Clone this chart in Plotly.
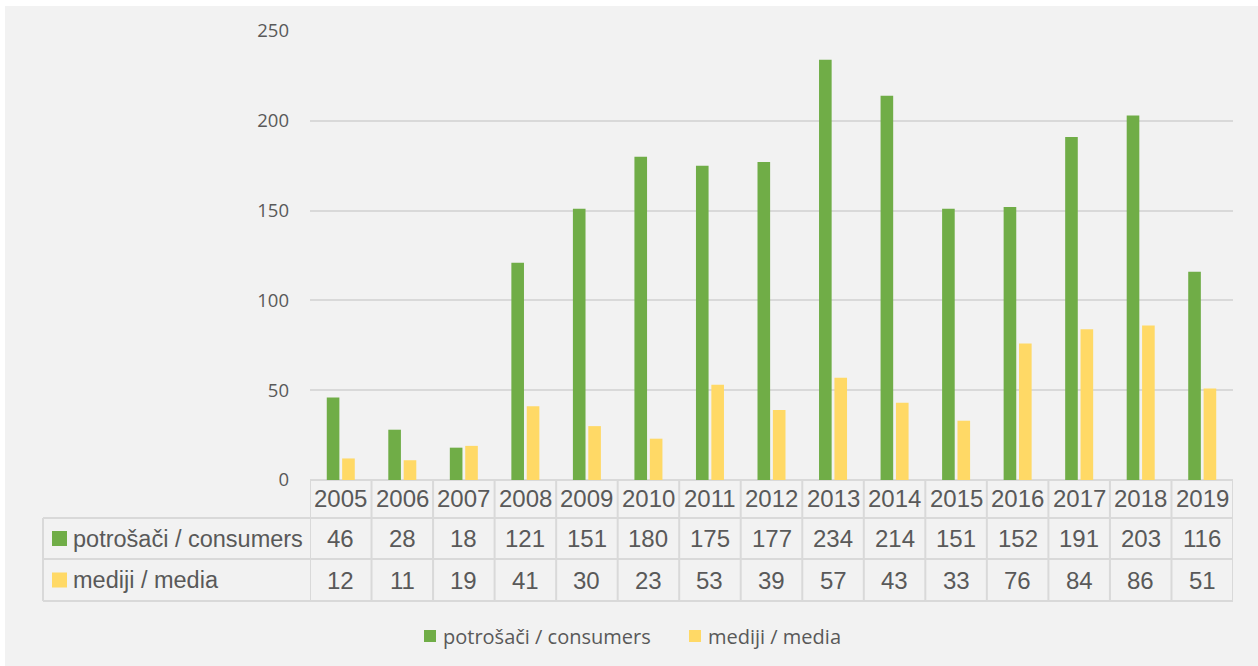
import plotly.graph_objects as go

years = ["2005", "2006", "2007", "2008", "2009", "2010", "2011", "2012",
         "2013", "2014", "2015", "2016", "2017", "2018", "2019"]
consumers = [46, 28, 18, 121, 151, 180, 175, 177, 234, 214, 151, 152, 191, 203, 116]
media = [12, 11, 19, 41, 30, 23, 53, 39, 57, 43, 33, 76, 84, 86, 51]
series_names = ["potrošači / consumers", "mediji / media"]
series_colors = ["#70AD47", "#FFD966"]

W, H = 1258, 666
PL, PR, PT, PB = 310, 1233, 31, 480  # plot area in pixels
PW, PH = PR - PL, PB - PT

def px(x):
    return (x - PL) / PW

def py(y):
    return (PB - y) / PH

TEXT = "#595959"
LINE = "#D9D9D9"
BG = "#F2F2F2"
TFONT = "Liberation Sans, Arial, sans-serif"
LFONT = "Open Sans, Calibri, sans-serif"
TSIZE = 24
LABSIZE = 23.5

fig = go.Figure()
for name, vals, col in zip(series_names, [consumers, media], series_colors):
    fig.add_trace(go.Bar(x=years, y=vals, name=name, marker=dict(color=col, line=dict(width=0)),
                         showlegend=False))

shapes = []
annotations = []

# background panel
shapes.append(dict(type="rect", xref="paper", yref="paper", x0=px(5), x1=px(W), y0=py(H), y1=py(6),
                   fillcolor=BG, line=dict(width=0), layer="below"))

# table rows (pixel y)
row_top, row1, row2, row_bot = 480, 518, 559, 601
n = len(years)
for yy in (row1, row2, row_bot):
    shapes.append(dict(type="line", xref="paper", yref="paper", x0=px(43), x1=1, y0=py(yy), y1=py(yy),
                       line=dict(color=LINE, width=2)))
for i in range(n + 1):
    shapes.append(dict(type="line", xref="x", yref="paper", x0=i - 0.5, x1=i - 0.5, y0=py(row_top), y1=py(row_bot),
                       line=dict(color=LINE, width=2)))
shapes.append(dict(type="line", xref="paper", yref="paper", x0=px(43), x1=px(43), y0=py(row1), y1=py(row_bot),
                   line=dict(color=LINE, width=2)))

# header labels
for i, yr in enumerate(years):
    annotations.append(dict(x=i, xref="x", y=py((row_top + row1) / 2), yref="paper", text=yr, showarrow=False,
                            font=dict(family=TFONT, size=TSIZE, color=TEXT), xanchor="center", yanchor="middle"))
# values + row labels
for r, (vals, name, col) in enumerate(zip([consumers, media], series_names, series_colors)):
    ytop, ybot = [(row1, row2), (row2, row_bot)][r]
    yc = (ytop + ybot) / 2
    for i, v in enumerate(vals):
        annotations.append(dict(x=i, xref="x", y=py(yc), yref="paper", text=str(v), showarrow=False,
                                font=dict(family=TFONT, size=TSIZE, color=TEXT), xanchor="center", yanchor="middle"))
    shapes.append(dict(type="rect", xref="paper", yref="paper", x0=px(52), x1=px(67), y0=py(yc + 7.5), y1=py(yc - 7.5),
                       fillcolor=col, line=dict(width=0)))
    annotations.append(dict(x=px(71), xref="paper", y=py(yc), yref="paper", text=name, showarrow=False,
                            font=dict(family=TFONT, size=LABSIZE, color=TEXT), xanchor="left", yanchor="middle"))

# bottom legend (manual)
leg_y = 636
for (sq_x, name, col) in zip([424, 689], series_names, series_colors):
    shapes.append(dict(type="rect", xref="paper", yref="paper", x0=px(sq_x), x1=px(sq_x + 12),
                       y0=py(leg_y + 6), y1=py(leg_y - 6), fillcolor=col, line=dict(width=0)))
    annotations.append(dict(x=px(sq_x + 17), xref="paper", y=py(leg_y), yref="paper", text=name, showarrow=False,
                            font=dict(family=LFONT, size=20, color=TEXT), xanchor="left", yanchor="middle"))

fig.update_layout(
    width=W, height=H,
    margin=dict(l=PL, r=W - PR, t=PT, b=H - PB, pad=0),
    paper_bgcolor="white", plot_bgcolor=BG,
    barmode="group", bargap=0.5, bargroupgap=0.18,
    shapes=shapes, annotations=annotations,
    showlegend=False,
    xaxis=dict(type="category", range=[-0.5, n - 0.5], showticklabels=False, showgrid=False,
               zeroline=False, showline=False, ticks=""),
    yaxis=dict(range=[0, 250], dtick=50, showgrid=True, gridcolor=LINE, gridwidth=1.5,
               zeroline=True, zerolinecolor=LINE, zerolinewidth=2, showline=False, ticks="",
               tickfont=dict(family=LFONT, size=18.5, color=TEXT), ticklabelstandoff=20),
)

fig.write_html("out.html")
